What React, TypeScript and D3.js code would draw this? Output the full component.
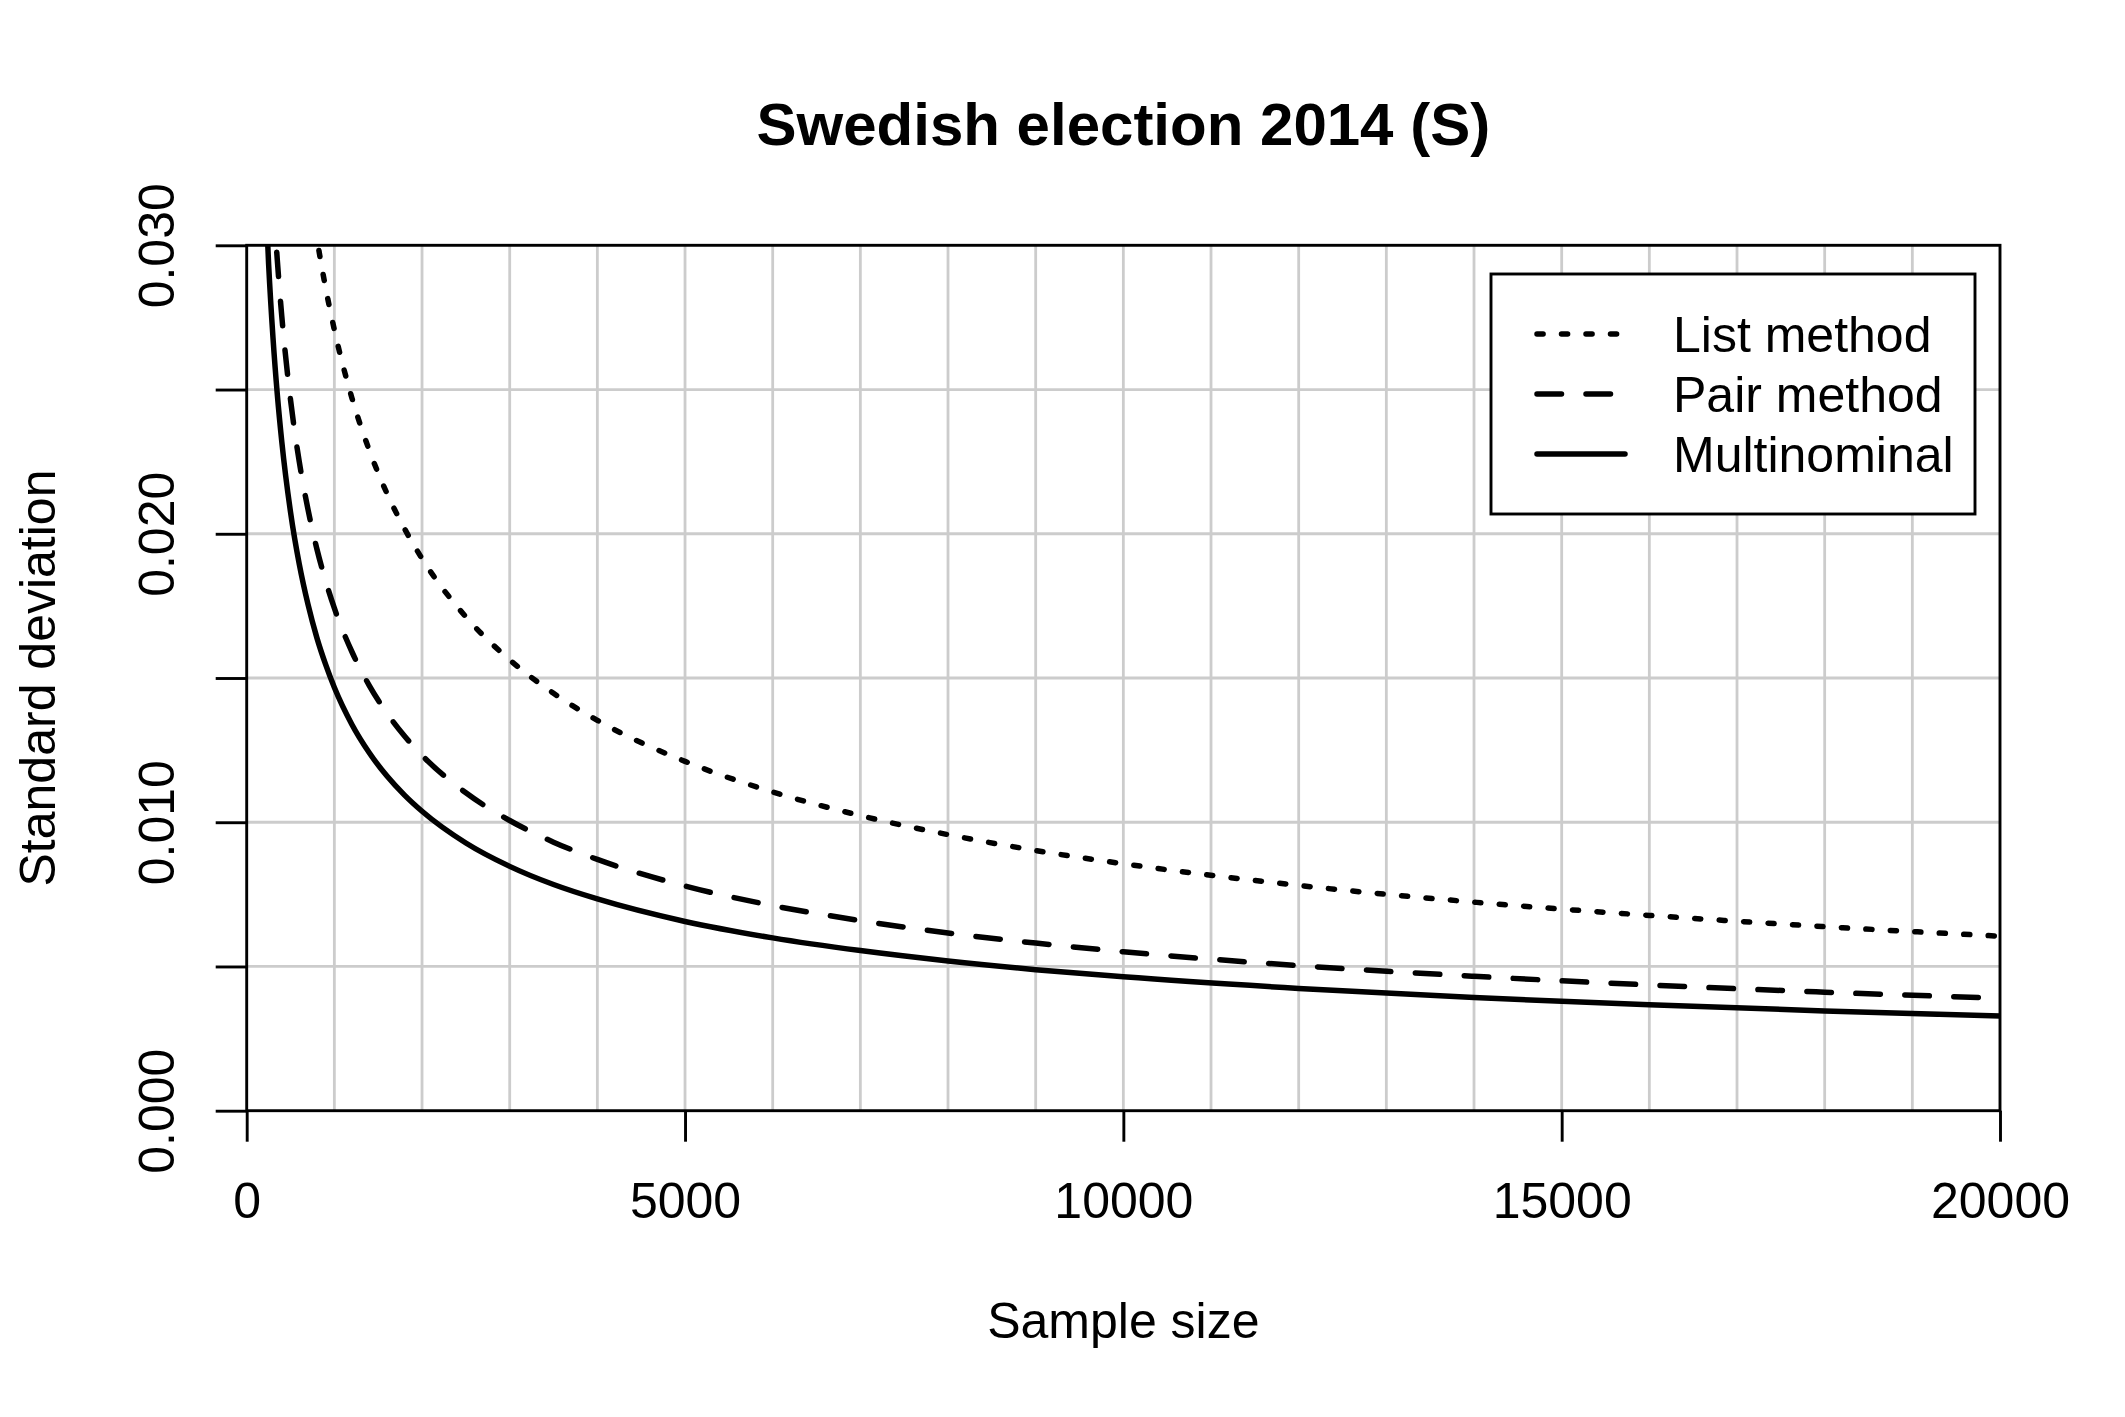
import React, { useRef, useEffect } from "react";
import * as d3 from "d3";

// Sample sizes
const sampleSizes = [
  200, 250, 300, 350, 400, 500, 600, 700, 800, 900, 1000, 1200, 1400, 1600,
  1800, 2000, 2500, 3000, 3500, 4000, 5000, 6000, 7000, 8000, 9000, 10000,
  12000, 14000, 16000, 18000, 20000,
];

// Standard deviations (null = not drawn / off the top)
const multinomial = [
  0.03281, 0.02935, 0.02679, 0.0248, 0.0232, 0.02075, 0.01894, 0.01754,
  0.0164, 0.01547, 0.01467, 0.01339, 0.0124, 0.0116, 0.01094, 0.01038,
  0.00928, 0.00847, 0.00784, 0.00734, 0.00656, 0.00599, 0.00555, 0.00519,
  0.00489, 0.00464, 0.00424, 0.00392, 0.00367, 0.00346, 0.00328,
];
const pairMethod = [
  null, 0.03485, 0.03181, 0.02945, 0.02755, 0.02464, 0.02249, 0.02083,
  0.01948, 0.01837, 0.01742, 0.01591, 0.01473, 0.01378, 0.01299, 0.01232,
  0.01102, 0.01006, 0.00931, 0.00871, 0.00779, 0.00711, 0.00659, 0.00616,
  0.00581, 0.00551, 0.00503, 0.00466, 0.00436, 0.00411, 0.0039,
];
const listMethod = [
  null, null, null, null, null, null, null, 0.03235, 0.03026, 0.02853,
  0.02707, 0.02471, 0.02288, 0.0214, 0.02018, 0.01914, 0.01712, 0.01563,
  0.01447, 0.01353, 0.01211, 0.01105, 0.01023, 0.00957, 0.00902, 0.00856,
  0.00781, 0.00723, 0.00677, 0.00638, 0.00605,
];

const legendLabels = ["List method", "Pair method", "Multinominal"];
const xTicks = [0, 5000, 10000, 15000, 20000];
const yTicks = [0, 0.005, 0.01, 0.015, 0.02, 0.025, 0.03];
const yLabelled = [0, 0.01, 0.02, 0.03];
const xGrid = d3.range(1000, 20000, 1000);
const yGrid = [0.005, 0.01, 0.015, 0.02, 0.025];

const FONT = "'Liberation Sans', Arial, Helvetica, sans-serif";

const App: React.FC = () => {
  const svgRef = useRef<SVGSVGElement | null>(null);
  const width = 2125;
  const height = 1417;

  useEffect(() => {
    const svg = d3.select(svgRef.current);
    svg.selectAll("*").remove();

    const plot = { left: 246.7, right: 2000, top: 245.3, bottom: 1110.7 };

    const x = d3.scaleLinear().domain([0, 20000]).range([plot.left, plot.right]);
    const y = d3.scaleLinear().domain([0, 0.03]).range([plot.bottom, plot.top]);

    svg.append("rect").attr("width", width).attr("height", height).attr("fill", "#fff");

    svg
      .append("defs")
      .append("clipPath")
      .attr("id", "plot-clip")
      .append("rect")
      .attr("x", plot.left)
      .attr("y", plot.top)
      .attr("width", plot.right - plot.left)
      .attr("height", plot.bottom - plot.top);

    // grid
    const grid = svg.append("g").attr("stroke", "#cccccc").attr("stroke-width", 2.8);
    xGrid.forEach((v) => {
      grid
        .append("line")
        .attr("x1", x(v))
        .attr("x2", x(v))
        .attr("y1", plot.top)
        .attr("y2", plot.bottom);
    });
    yGrid.forEach((v) => {
      grid
        .append("line")
        .attr("x1", plot.left)
        .attr("x2", plot.right)
        .attr("y1", y(v))
        .attr("y2", y(v));
    });

    // curves
    const series = [
      { values: listMethod, dash: "6.1 18.4" },
      { values: pairMethod, dash: "24.5 24.5" },
      { values: multinomial, dash: null as string | null },
    ];

    const line = d3
      .line<[number, number]>()
      .x((d) => x(d[0]))
      .y((d) => y(d[1]))
      .curve(d3.curveMonotoneX);

    const curves = svg.append("g").attr("clip-path", "url(#plot-clip)");
    series.forEach((s) => {
      const pts = sampleSizes
        .map((n, i) => [n, s.values[i]] as [number, number | null])
        .filter((d) => d[1] !== null) as [number, number][];
      curves
        .append("path")
        .datum(pts)
        .attr("fill", "none")
        .attr("stroke", "#000")
        .attr("stroke-width", 5.5)
        .attr("stroke-linecap", "round")
        .attr("stroke-dasharray", s.dash)
        .attr("d", line);
    });

    // box
    svg
      .append("rect")
      .attr("x", plot.left)
      .attr("y", plot.top)
      .attr("width", plot.right - plot.left)
      .attr("height", plot.bottom - plot.top)
      .attr("fill", "none")
      .attr("stroke", "#000")
      .attr("stroke-width", 2.9);

    // x axis
    const xAxis = d3
      .axisBottom(x)
      .tickValues(xTicks)
      .tickSize(31)
      .tickFormat((d) => String(d));
    const gx = svg
      .append("g")
      .attr("transform", `translate(0,${plot.bottom})`)
      .call(xAxis);
    gx.select(".domain").remove();
    gx.selectAll(".tick line").attr("stroke", "#000").attr("stroke-width", 2.9);
    gx.selectAll(".tick text")
      .attr("y", 1218 - plot.bottom)
      .attr("dy", 0)
      .attr("fill", "#000")
      .style("font-family", FONT)
      .style("font-size", "50px");

    // y axis
    const yAxis = d3
      .axisLeft(y)
      .tickValues(yTicks)
      .tickSize(31)
      .tickFormat((d) =>
        yLabelled.some((v) => Math.abs(v - +d) < 1e-9) ? d3.format(".3f")(+d) : ""
      );
    const gy = svg
      .append("g")
      .attr("transform", `translate(${plot.left},0)`)
      .call(yAxis);
    gy.select(".domain").remove();
    gy.selectAll(".tick line").attr("stroke", "#000").attr("stroke-width", 2.9);
    gy.selectAll(".tick text")
      .attr("x", 0)
      .attr("y", 0)
      .attr("dy", 0)
      .attr("text-anchor", "middle")
      .attr("transform", `translate(${174 - plot.left},0) rotate(-90)`)
      .attr("fill", "#000")
      .style("font-family", FONT)
      .style("font-size", "50px");

    const cx = (plot.left + plot.right) / 2;
    const cy = (plot.top + plot.bottom) / 2;

    // title
    svg
      .append("text")
      .attr("x", cx)
      .attr("y", 145)
      .attr("text-anchor", "middle")
      .style("font-family", FONT)
      .style("font-size", "60px")
      .style("font-weight", "bold")
      .text("Swedish election 2014 (S)");

    // axis titles
    svg
      .append("text")
      .attr("x", cx)
      .attr("y", 1338)
      .attr("text-anchor", "middle")
      .style("font-family", FONT)
      .style("font-size", "50px")
      .text("Sample size");

    svg
      .append("text")
      .attr("transform", `translate(55,${cy}) rotate(-90)`)
      .attr("text-anchor", "middle")
      .style("font-family", FONT)
      .style("font-size", "50px")
      .text("Standard deviation");

    // legend
    const lg = svg.append("g");
    lg.append("rect")
      .attr("x", 1491)
      .attr("y", 274)
      .attr("width", 1975 - 1491)
      .attr("height", 514 - 274)
      .attr("fill", "#fff")
      .attr("stroke", "#000")
      .attr("stroke-width", 2.9);

    legendLabels.forEach((label, i) => {
      const base = 352 + i * 60;
      lg.append("line")
        .attr("x1", 1537)
        .attr("x2", 1625)
        .attr("y1", base - 18)
        .attr("y2", base - 18)
        .attr("stroke", "#000")
        .attr("stroke-width", 5.5)
        .attr("stroke-linecap", "round")
        .attr("stroke-dasharray", series[i].dash);
      lg.append("text")
        .attr("x", 1673)
        .attr("y", base)
        .style("font-family", FONT)
        .style("font-size", "50px")
        .text(label);
    });
  }, []);

  return (
    <svg
      ref={svgRef}
      width={width}
      height={height}
      style={{ position: "absolute", left: 0, top: 0 }}
    />
  );
};

export default App;
